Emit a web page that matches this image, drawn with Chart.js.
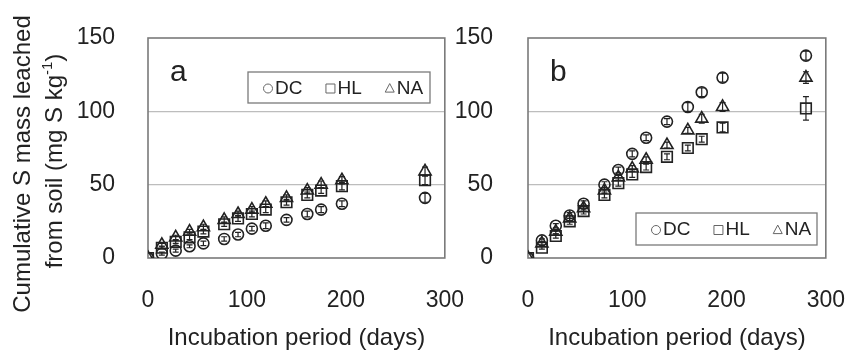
<!DOCTYPE html>
<html lang="en">
<head>
<meta charset="UTF-8">
<title>Cumulative S mass leached</title>
<script src="https://cdn.jsdelivr.net/npm/chart.js"></script>
<style>
  body { margin: 0; background: #fff; }
  .wrap { position: relative; width: 858px; height: 354px; overflow: hidden; }
  canvas { position: absolute; top: 0; }
  #chartA { left: 0; }
  #chartB { left: 455px; }
</style>
</head>
<body>
<div class="wrap">
  <canvas id="chartA" width="493" height="354"></canvas>
  <canvas id="chartB" width="419" height="354"></canvas>
</div>
<script>
  // sampling days (same for both soils)
  const days = [0, 14, 28, 42, 56, 77, 91, 105, 119, 140, 161, 175, 196, 280];
  const seriesNames = ['DC', 'HL', 'NA'];
  const xTicks = [0, 100, 200, 300];
  const yTicks = [0, 50, 100, 150];

  // panel a
  const dcA = [0, 3, 5, 8, 10, 13, 16, 20, 22, 26, 30, 33, 37, 41];
  const hlA = [0, 7, 11, 14, 18, 23, 27, 30, 33, 38, 43, 46, 49, 53];
  const naA = [0, 9, 14, 18, 21, 26, 30, 33, 37, 41, 46, 50, 53, 59];
  const dcErrA = [0, 1, 1, 1, 1.5, 1.5, 1.5, 1.5, 2, 1.5, 2, 2, 2, 3];
  const hlErrA = [0, 1, 1, 1.5, 1.5, 1.5, 2, 2, 2, 2, 2, 2, 2.5, 3];
  const naErrA = [0, 1, 1.5, 1.5, 2, 2, 2, 2, 2, 2, 2, 2.5, 2.5, 3];

  // panel b
  const dcB = [0, 12, 22, 29, 37, 50, 60, 71, 82, 93, 103, 113, 123, 138];
  const hlB = [0, 7, 15, 25, 32, 43, 51, 57, 62, 69, 75, 81, 89, 102];
  const naB = [0, 10, 18, 27, 34, 46, 55, 61, 67, 77, 87, 95, 103, 123];
  const dcErrB = [0, 1, 1.5, 2, 2, 2, 2, 2, 2, 2, 3, 3, 3, 3];
  const hlErrB = [0, 1, 1.5, 2, 2, 2, 2, 2, 2, 2, 2, 2, 3, 8];
  const naErrB = [0, 1, 1.5, 2, 2, 2, 2, 2, 2, 2, 2, 3, 3, 4];

  const FONT = '"Liberation Sans", Arial, sans-serif';
  const INK = '#222';
  const styles = [
    { pointStyle: 'circle', radius: 5.5 },
    { pointStyle: 'rect', radius: 7.5 },
    { pointStyle: 'triangle', radius: 7 }
  ];

  function symbol(ctx, style, x, y, r) {
    ctx.beginPath();
    if (style === 'circle') {
      ctx.arc(x, y, r, 0, Math.PI * 2);
    } else if (style === 'rect') {
      ctx.rect(x - r, y - r, 2 * r, 2 * r);
    } else {
      ctx.moveTo(x, y - r * 1.1);
      ctx.lineTo(x + r, y + r * 0.8);
      ctx.lineTo(x - r, y + r * 0.8);
      ctx.closePath();
    }
    ctx.stroke();
  }

  // outer box of the plot
  const frame = {
    id: 'frame',
    beforeDatasetsDraw(chart) {
      const { ctx, chartArea: a } = chart;
      ctx.save();
      ctx.strokeStyle = '#7a7a7a';
      ctx.lineWidth = 1.6;
      ctx.strokeRect(a.left, a.top, a.right - a.left, a.bottom - a.top);
      ctx.restore();
    }
  };

  // small vertical error bars
  const errorBars = {
    id: 'errorBars',
    afterDatasetsDraw(chart) {
      const { ctx, scales: { x, y } } = chart;
      ctx.save();
      ctx.strokeStyle = INK;
      ctx.lineWidth = 1.2;
      chart.data.datasets.forEach(ds => {
        (ds.errors || []).forEach((e, i) => {
          if (!e) return;
          const px = x.getPixelForValue(ds.data[i].x);
          const hi = y.getPixelForValue(ds.data[i].y + e);
          const lo = y.getPixelForValue(ds.data[i].y - e);
          ctx.beginPath();
          ctx.moveTo(px, hi); ctx.lineTo(px, lo);
          ctx.moveTo(px - 3, hi); ctx.lineTo(px + 3, hi);
          ctx.moveTo(px - 3, lo); ctx.lineTo(px + 3, lo);
          ctx.stroke();
        });
      });
      ctx.restore();
    }
  };

  // boxed legend inside the plot + panel letter
  const boxLegend = {
    id: 'boxLegend',
    afterDraw(chart, args, opts) {
      const ctx = chart.ctx;
      ctx.save();
      ctx.fillStyle = INK;
      ctx.font = '30px ' + FONT;
      ctx.textBaseline = 'middle';
      ctx.fillText(opts.letter, opts.letterX, opts.letterY);

      ctx.strokeStyle = '#7a7a7a';
      ctx.lineWidth = 1.3;
      ctx.strokeRect(opts.left, opts.top, opts.width, opts.height);
      ctx.font = '19px ' + FONT;
      const cy = opts.top + opts.height / 2 + 1;
      let cx = opts.left + 15;
      seriesNames.forEach((name, i) => {
        ctx.strokeStyle = '#666';
        ctx.lineWidth = 1;
        symbol(ctx, styles[i].pointStyle, cx + 5, cy, 4.5);
        ctx.fillStyle = INK;
        ctx.fillText(name, cx + 12, cy);
        cx += 12 + ctx.measureText(name).width + 23;
      });
      ctx.restore();
    }
  };

  // two-line rotated y title (left panel only)
  const yTitle = {
    id: 'yTitle',
    afterDraw(chart, args, opts) {
      if (!opts.show) return;
      const ctx = chart.ctx;
      ctx.save();
      ctx.fillStyle = INK;
      ctx.textBaseline = 'middle';
      ctx.font = '24px ' + FONT;
      ctx.translate(23, 164);
      ctx.rotate(-Math.PI / 2);
      ctx.textAlign = 'center';
      ctx.fillText('Cumulative S mass leached', 0, 0);
      ctx.restore();

      ctx.save();
      ctx.fillStyle = INK;
      ctx.textBaseline = 'middle';
      ctx.translate(55, 161);
      ctx.rotate(-Math.PI / 2);
      ctx.textAlign = 'left';
      const main = 'from soil (mg S kg';
      const sup = '-1';
      const end = ')';
      ctx.font = '24px ' + FONT;
      const w1 = ctx.measureText(main).width;
      const w3 = ctx.measureText(end).width;
      ctx.font = '15px ' + FONT;
      const w2 = ctx.measureText(sup).width;
      let px = -(w1 + w2 + w3) / 2;
      ctx.font = '24px ' + FONT;
      ctx.fillText(main, px, 0);
      px += w1;
      ctx.font = '15px ' + FONT;
      ctx.fillText(sup, px, -7);
      px += w2;
      ctx.font = '24px ' + FONT;
      ctx.fillText(end, px, 0);
      ctx.restore();
    }
  };

  function makePanel(id, values, errs, cfg) {
    const datasets = values.map((vals, i) => ({
      label: seriesNames[i],
      data: days.map((d, j) => ({ x: d, y: vals[j] })),
      errors: errs[i],
      showLine: false,
      pointStyle: styles[i].pointStyle,
      pointRadius: styles[i].radius,
      pointHoverRadius: styles[i].radius,
      pointBorderWidth: 1.6,
      pointBorderColor: INK,
      pointBackgroundColor: 'rgba(255,255,255,0)'
    }));

    return new Chart(document.getElementById(id), {
      type: 'scatter',
      data: { datasets },
      options: {
        responsive: false,
        animation: false,
        layout: { padding: { top: 38, right: 0, bottom: 0, left: 0 } },
        plugins: {
          legend: { display: false },
          tooltip: { enabled: false },
          boxLegend: cfg.legend,
          yTitle: { show: cfg.yTitle }
        },
        scales: {
          x: {
            type: 'linear',
            min: 0,
            max: 300,
            afterBuildTicks: axis => { axis.ticks = xTicks.map(v => ({ value: v })); },
            afterFit: axis => { axis.height = 96; },
            grid: { display: false, drawTicks: false },
            border: { display: false },
            ticks: { font: { size: 23, family: FONT }, color: INK, padding: 29, maxRotation: 0, autoSkip: false },
            title: {
              display: true,
              text: 'Incubation period (days)',
              font: { size: 24, family: FONT },
              color: INK,
              padding: { top: 0, bottom: 1 }
            }
          },
          y: {
            min: 0,
            max: 150,
            afterBuildTicks: axis => { axis.ticks = yTicks.map(v => ({ value: v })); },
            afterFit: axis => {
              axis.width = cfg.yWidth;
              axis.paddingTop = 0;
              axis.paddingBottom = 0;
            },
            grid: {
              drawTicks: false,
              lineWidth: 1.3,
              color: c => (c.tick.value === 0 || c.tick.value === 150) ? 'rgba(0,0,0,0)' : '#bdbdbd'
            },
            border: { display: false },
            ticks: { font: { size: 23, family: FONT }, color: INK, padding: cfg.tickPad }
          }
        }
      },
      plugins: [frame, errorBars, boxLegend, yTitle]
    });
  }

  makePanel('chartA', [dcA, hlA, naA], [dcErrA, hlErrA, naErrA], {
    yWidth: 148, tickPad: 33, yTitle: true,
    legend: { letter: 'a', letterX: 170, letterY: 73, left: 248, top: 72, width: 182, height: 31 }
  });

  makePanel('chartB', [dcB, hlB, naB], [dcErrB, hlErrB, naErrB], {
    yWidth: 73, tickPad: 35, yTitle: false,
    legend: { letter: 'b', letterX: 95, letterY: 73, left: 181, top: 213, width: 181, height: 32 }
  });
</script>
</body>
</html>
